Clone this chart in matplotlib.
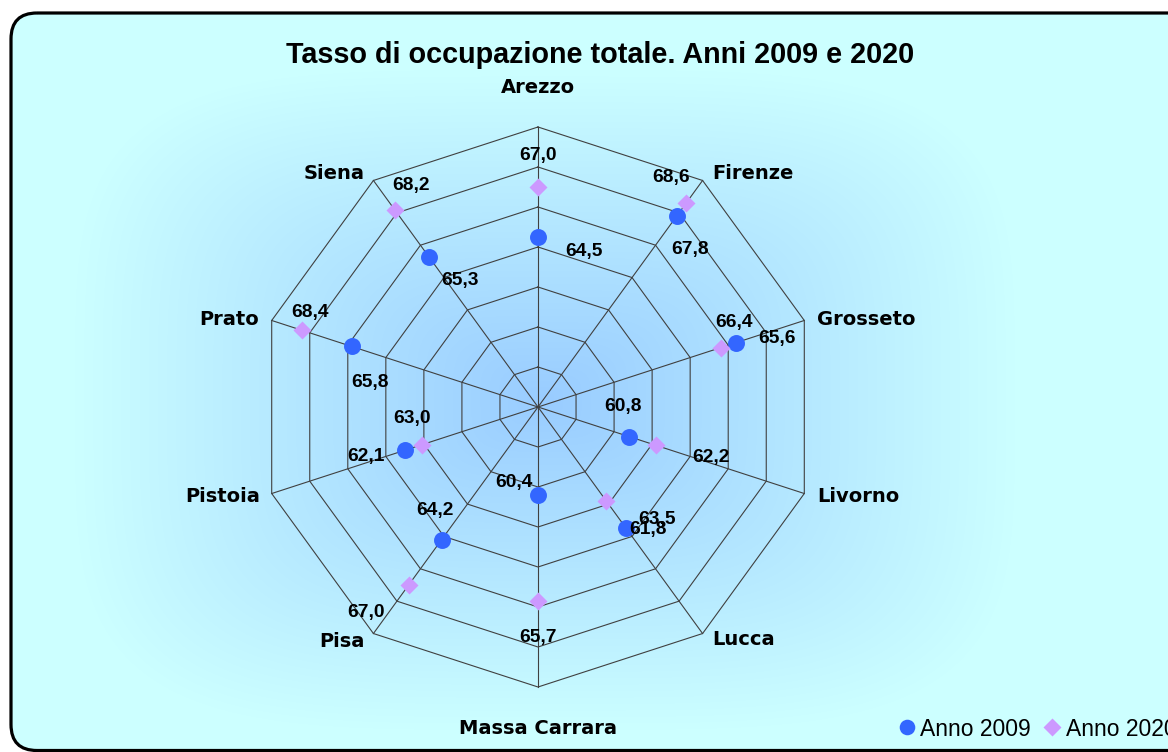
import numpy as np
import matplotlib.pyplot as plt
from matplotlib.patches import FancyBboxPatch


categories = ['Arezzo', 'Firenze', 'Grosseto', 'Livorno', 'Lucca',
              'Massa Carrara', 'Pisa', 'Pistoia', 'Prato', 'Siena']
anno_2009 = [64.5, 67.8, 66.4, 60.8, 63.5, 60.4, 64.2, 63.0, 65.8, 65.3]
anno_2020 = [67.0, 68.6, 65.6, 62.2, 61.8, 65.7, 67.0, 62.1, 68.4, 68.2]
series_names = ['Anno 2009', 'Anno 2020']
title = 'Tasso di occupazione totale. Anni 2009 e 2020'
r_min, r_max, r_step = 56, 70, 2

# hand placed data labels of the original (pixels from the marker, y down)
off_2009 = [(46, 12), (13, 31), (-2, -23), (-6, -33), (31, -11),
            (-24, -15), (-7, -32), (7, -34), (18, 34), (31, 21)]
off_2020 = [(0, -34), (-15, -28), (56, -12), (55, 10), (42, 26),
            (0, 34), (-43, 25), (-56, 9), (8, -20), (16, -27)]
# category labels: pixels from the outer vertex (y down)
off_cat = [(0, -41), (10, -8), (13, -2.5), (13, 1.5), (10, 4.5),
           (0, 40), (-9, 6.5), (-12, 1.5), (-13, -2.5), (-9, -8.5)]

W, H, DPI = 1168, 752, 100
cx, cy = 538, 407   # radar centre in pixels
ppu = 20            # pixels per unit on the radial axis

fig = plt.figure(figsize=(W / DPI, H / DPI), dpi=DPI)
fig.patch.set_facecolor('white')

# background with rounded frame and blue path gradient
bg = fig.add_axes([0, 0, 1, 1])
bg.set_xlim(0, W)
bg.set_ylim(H, 0)
bg.axis('off')
yy, xx = np.mgrid[0:H, 0:W] + 0.5
t = ((np.abs(xx - 545) / 470) ** 4 + (np.abs(yy - 400) / 330) ** 4) ** 0.25
t = np.clip(t, 0, 1)
inner = np.array([153, 204, 255]) / 255
outer = np.array([204, 255, 255]) / 255
img = outer + (inner - outer) * (1 - t)[..., None]
frame = FancyBboxPatch((11, 13), W + 40, H - 13 - 1.5,
                       boxstyle='round,pad=0,rounding_size=26',
                       facecolor='none', edgecolor='black', lw=2.3, zorder=3)
bg.add_patch(frame)
im = bg.imshow(img, extent=(0, W, H, 0), interpolation='bilinear', zorder=1)
im.set_clip_path(frame)

# radar in a plain axes, 1 unit = ppu pixels
ax = fig.add_axes([0, 0, 1, 1])
ax.set_xlim(-cx / ppu, (W - cx) / ppu)
ax.set_ylim(-(H - cy) / ppu, cy / ppu)
ax.axis('off')

n = len(categories)
theta = np.arange(n) * 2 * np.pi / n
sx, sy = np.sin(theta), np.cos(theta)
R = r_max - r_min

for level in np.arange(r_step, R + 0.1, r_step):
    ax.plot(np.append(level * sx, level * sx[0]), np.append(level * sy, level * sy[0]),
            color='#404040', lw=0.8, zorder=2)
for i in range(n):
    ax.plot([0, R * sx[i]], [0, R * sy[i]], color='#404040', lw=0.8, zorder=2)

for i, cat in enumerate(categories):
    if abs(sx[i]) < 0.01:
        ha = 'center'
    elif sx[i] > 0:
        ha = 'left'
    else:
        ha = 'right'
    dx, dy = off_cat[i]
    ax.annotate(cat, (R * sx[i], R * sy[i]), xytext=(dx, -dy - 7),
                textcoords='offset pixels', ha=ha, va='baseline',
                fontsize=14, fontweight='bold', family='DejaVu Sans')

styles = [dict(marker='o', ms=12.2, color='#3366FF'),
          dict(marker='D', ms=9.6, color='#CC99FF')]
handles = []
for vals, offs, name, st in zip([anno_2009, anno_2020], [off_2009, off_2020], series_names, styles):
    rr = np.array(vals) - r_min
    h, = ax.plot(rr * sx, rr * sy, linestyle='none', mec='none', label=name, zorder=4, **st)
    handles.append(h)
    for i, v in enumerate(vals):
        dx, dy = offs[i]
        ax.annotate(f'{v:.1f}'.replace('.', ','), (rr[i] * sx[i], rr[i] * sy[i]),
                    xytext=(dx, -dy - 7), textcoords='offset pixels',
                    ha='center', va='baseline', fontsize=13.8, fontweight='bold',
                    family='Liberation Sans', zorder=5)

fig.text(600 / W, 1 - 63 / H, title, ha='center', va='baseline',
         fontsize=20.7, fontweight='bold', family='Liberation Sans')

fig.legend(handles=handles, loc='center left', bbox_to_anchor=(886 / W, 1 - 729 / H),
           ncol=2, frameon=False, prop={'family': 'Liberation Sans', 'size': 16.5},
           handlelength=0.8, handletextpad=0.2, columnspacing=0.5, borderpad=0,
           markerscale=0.92)

fig.savefig('out.png', dpi=DPI)
